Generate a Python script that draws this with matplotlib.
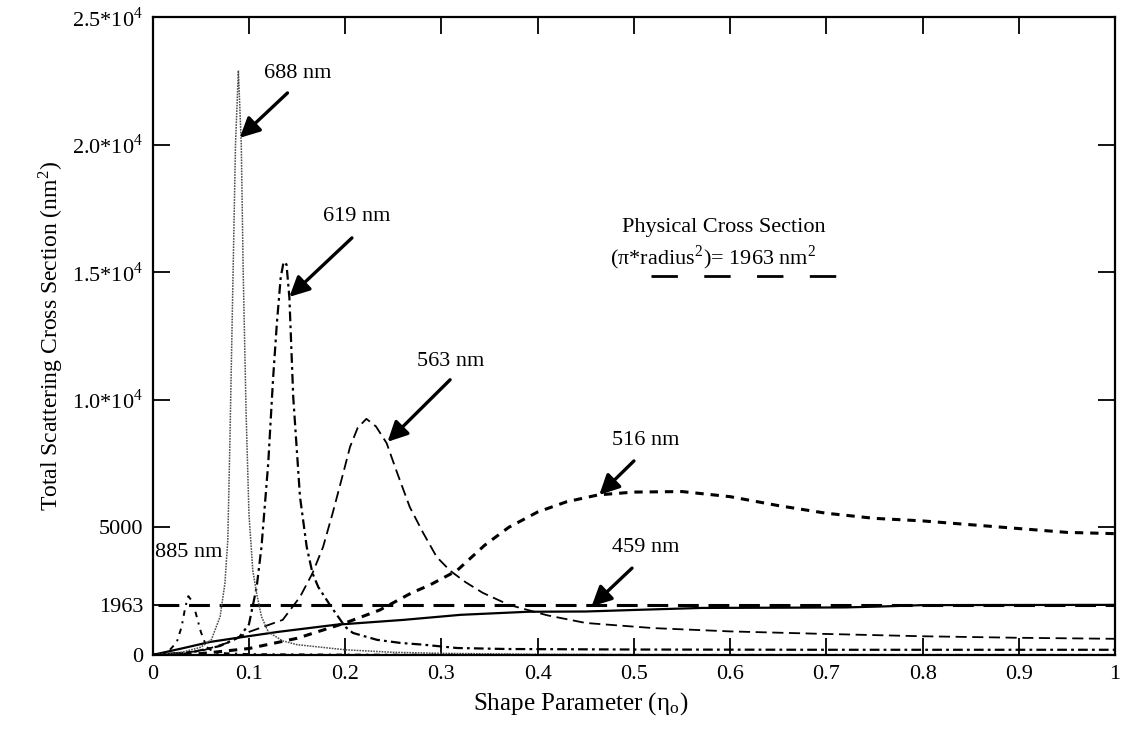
import matplotlib
matplotlib.use('Agg')
import matplotlib.pyplot as plt

plt.rcParams['font.family'] = ['Liberation Serif', 'DejaVu Serif']
plt.rcParams['mathtext.fontset'] = 'stix'
plt.rcParams['lines.scale_dashes'] = False

# values
x_459 = [0, 0.03, 0.06, 0.09, 0.13, 0.19, 0.26, 0.32, 0.39, 0.45, 0.5, 0.57, 0.66, 0.72, 0.76, 0.8, 0.9, 1.0]
y_459 = [0, 250, 510, 680, 900, 1180, 1370, 1570, 1690, 1700, 1760, 1840, 1850, 1860, 1900, 1950, 1955, 1960]

x_516 = [0, 0.05, 0.1, 0.15, 0.2, 0.236, 0.269, 0.288, 0.316, 0.345, 0.37, 0.4, 0.43, 0.463,
         0.5, 0.55, 0.6, 0.65, 0.7, 0.75, 0.8, 0.85, 0.9, 0.95, 1.0]
y_516 = [0, 50, 250, 650, 1250, 1760, 2430, 2740, 3300, 4300, 5000, 5600, 6000, 6270,
         6380, 6400, 6200, 5850, 5550, 5350, 5250, 5100, 4950, 4800, 4750]

x_563 = [0, 0.05, 0.08, 0.1, 0.135, 0.153, 0.166, 0.177, 0.187, 0.198, 0.205, 0.213, 0.222, 0.232,
         0.243, 0.254, 0.267, 0.281, 0.295, 0.309, 0.325, 0.343, 0.37, 0.41, 0.45, 0.52, 0.6, 0.7, 0.8, 0.9, 1.0]
y_563 = [0, 150, 500, 900, 1370, 2270, 3200, 4230, 5560, 7130, 8150, 8900, 9250, 8950,
         8300, 7130, 5800, 4780, 3840, 3300, 2850, 2430, 1963, 1550, 1250, 1050, 920, 820, 730, 670, 630]

x_619 = [0, 0.04, 0.07, 0.09, 0.1, 0.108, 0.113, 0.12, 0.125, 0.129, 0.133, 0.136, 0.139, 0.142, 0.146,
         0.153, 0.16, 0.166, 0.172, 0.184, 0.2, 0.208, 0.233, 0.257, 0.281, 0.316, 0.368, 0.5, 0.7, 1.0]
y_619 = [0, 100, 350, 700, 1200, 2660, 4230, 7500, 10800, 13000, 14800, 15400, 15300, 14000, 10100,
         6200, 4230, 3200, 2660, 1963, 1100, 860, 590, 470, 400, 270, 230, 210, 200, 200]

x_688 = [0, 0.03, 0.05, 0.061, 0.07, 0.075, 0.078, 0.08, 0.083, 0.086, 0.089, 0.092, 0.094, 0.097,
         0.1, 0.104, 0.108, 0.113, 0.12, 0.135, 0.15, 0.2, 0.25, 0.3, 0.4, 0.6, 1.0]
y_688 = [0, 100, 300, 600, 1500, 2800, 4500, 8000, 14000, 20000, 22900, 20000, 15000, 9500,
         5500, 3300, 2400, 1500, 900, 550, 400, 200, 100, 60, 20, 0, 0]

x_885 = [0, 0.015, 0.025, 0.03, 0.034, 0.037, 0.041, 0.045, 0.05, 0.056, 0.065, 0.1, 0.2, 0.4, 1.0]
y_885 = [0, 80, 500, 1100, 1900, 2300, 2100, 1600, 900, 300, 80, 30, 10, 0, 0]

phys_cs = 1963

x_ticks = [0, 0.1, 0.2, 0.3, 0.4, 0.5, 0.6, 0.7, 0.8, 0.9, 1.0]
x_ticklabels = ['0', '0.1', '0.2', '0.3', '0.4', '0.5', '0.6', '0.7', '0.8', '0.9', '1']
y_ticks = [0, 1963, 5000, 10000, 15000, 20000, 25000]
y_ticklabels = ['0', '1963', '5000', '1.0*10$^\\mathregular{4}$', '1.5*10$^\\mathregular{4}$',
                '2.0*10$^\\mathregular{4}$', '2.5*10$^\\mathregular{4}$']

fig = plt.figure(figsize=(11.23, 7.35), dpi=100)
ax = fig.add_axes([0.136, 0.109, 0.857, 0.868])

ax.plot([0.005, 1.0], [phys_cs, phys_cs], color='black', lw=2.2, dashes=(15, 7))
ax.plot(x_459, y_459, color='black', lw=1.6)
ax.plot(x_516, y_516, color='black', lw=2.2, dashes=(6, 5))
ax.plot(x_563, y_563, color='black', lw=1.3, dashes=(8, 4))
ax.plot(x_619, y_619, color='black', lw=1.6, dashes=(7, 3, 2, 3))
ax.plot(x_688, y_688, color='0.3', lw=1.1, dashes=(1.2, 0.8))
ax.plot(x_885, y_885, color='black', lw=1.4, dashes=(4, 4, 1.5, 4))

ax.set_xlim(0, 1)
ax.set_ylim(0, 25000)
ax.set_xticks(x_ticks)
ax.set_xticklabels(x_ticklabels)
ax.set_yticks(y_ticks)
ax.set_yticklabels(y_ticklabels)
ax.tick_params(direction='in', length=12, width=1.3, top=True, right=True, labelsize=16, pad=7)
for s in ax.spines.values():
    s.set_linewidth(1.6)

ax.set_xlabel('Shape Parameter (η$_\\mathregular{o}$)', fontsize=18, labelpad=4)
ax.xaxis.set_label_coords(0.445, -0.055)
ax.set_ylabel('Total Scattering Cross Section (nm$^\\mathregular{2}$)', fontsize=17, labelpad=4)

# wavelength labels and arrows
arrow = dict(arrowstyle='-|>', color='black', lw=2.4, mutation_scale=30, shrinkA=0, shrinkB=0)
labels = [
    ('688 nm', (0.116, 22800), (0.0904, 20260), (0.140, 22020)),
    ('619 nm', (0.177, 17160), (0.142, 14030), (0.207, 16340)),
    ('563 nm', (0.275, 11480), (0.244, 8350), (0.309, 10780)),
    ('516 nm', (0.477, 8420), (0.464, 6270), (0.500, 7600)),
    ('459 nm', (0.477, 4190), (0.456, 1900), (0.498, 3400)),
]
for txt, pos, tip, tail in labels:
    ax.text(pos[0], pos[1], txt, fontsize=16, va='center', ha='left')
    ax.annotate('', xy=tip, xytext=tail, arrowprops=arrow)
ax.text(0.002, 4000, '885 nm', fontsize=16, va='center', ha='left')

# physical cross section key
ax.text(0.488, 16730, 'Physical Cross Section', fontsize=16, va='center', ha='left')
ax.text(0.475, 15560, '(π*radius$^\\mathregular{2}$)= 1963 nm$^\\mathregular{2}$', fontsize=16,
        va='center', ha='left')
ax.plot([0.518, 0.711], [14850, 14850], color='black', lw=2, dashes=(19, 19))

fig.savefig('out.png', dpi=100)
